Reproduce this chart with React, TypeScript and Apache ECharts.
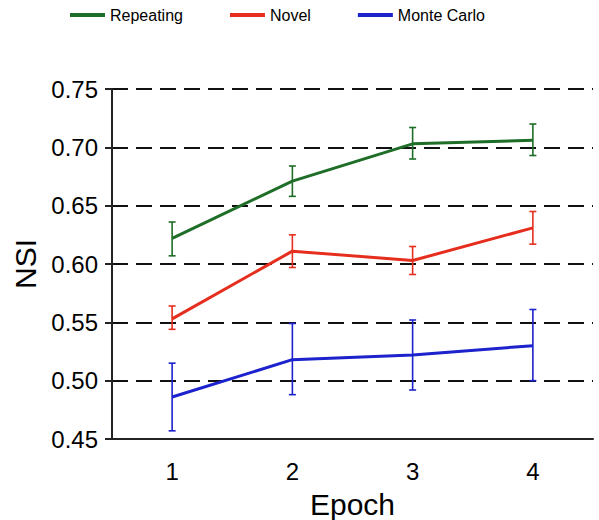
import React, { useEffect, useRef } from "react";
import * as echarts from "echarts";

const categories = ["1", "2", "3", "4"];
const seriesNames = ["Repeating", "Novel", "Monte Carlo"];
const colors = ["#1e6e28", "#e62e1e", "#1c22cc"];
const repeatingMean = [0.622, 0.671, 0.703, 0.706];
const repeatingLow = [0.607, 0.658, 0.690, 0.693];
const repeatingHigh = [0.636, 0.684, 0.717, 0.720];
const novelMean = [0.553, 0.611, 0.603, 0.631];
const novelLow = [0.544, 0.597, 0.591, 0.617];
const novelHigh = [0.564, 0.625, 0.615, 0.645];
const monteMean = [0.486, 0.518, 0.522, 0.530];
const monteLow = [0.457, 0.488, 0.492, 0.500];
const monteHigh = [0.515, 0.549, 0.552, 0.561];
const yTicks = ["0.45", "0.50", "0.55", "0.60", "0.65", "0.70", "0.75"];

const means = [repeatingMean, novelMean, monteMean];
const lows = [repeatingLow, novelLow, monteLow];
const highs = [repeatingHigh, novelHigh, monteHigh];

export default function App() {
  const ref = useRef<HTMLDivElement>(null);
  useEffect(() => {
    if (!ref.current) return;
    const chart = echarts.init(ref.current, undefined, { renderer: "svg" });
    const font = "Liberation Sans, Arial, sans-serif";
    const lineSeries = seriesNames.map((name, i) => ({
      name,
      type: "line",
      data: means[i],
      symbol: "none",
      lineStyle: { color: colors[i], width: 3 },
      itemStyle: { color: colors[i] },
      z: 3,
    }));
    const errSeries = seriesNames.map((name, i) => ({
      name: name,
      type: "custom",
      data: categories.map((_, j) => [j, lows[i][j], highs[i][j]]),
      itemStyle: { color: colors[i] },
      renderItem: (params: any, api: any) => {
        const x = api.value(0);
        const lo = api.coord([x, api.value(1)]);
        const hi = api.coord([x, api.value(2)]);
        const hw = 3.5;
        const style = { stroke: colors[i], lineWidth: 1.6 };
        return {
          type: "group",
          children: [
            { type: "line", shape: { x1: lo[0], y1: lo[1], x2: hi[0], y2: hi[1] }, style },
            { type: "line", shape: { x1: lo[0] - hw, y1: lo[1], x2: lo[0] + hw, y2: lo[1] }, style },
            { type: "line", shape: { x1: hi[0] - hw, y1: hi[1], x2: hi[0] + hw, y2: hi[1] }, style },
          ],
        };
      },
      encode: { x: 0, y: [1, 2] },
      z: 4,
    }));
    chart.setOption({
      animation: false,
      legend: {
        data: seriesNames.map((n, i) => ({ name: n, icon: "rect", itemStyle: { color: colors[i] } })),
        left: 70,
        top: 7,
        padding: 0,
        itemWidth: 35,
        itemHeight: 4,
        itemGap: 47,
        textStyle: { fontSize: 16, color: "#000", fontFamily: font },
      },
      grid: { left: 112, right: 6, top: 89, bottom: 81, outerBoundsMode: "none", containLabel: false },
      xAxis: {
        type: "category",
        data: categories,
        boundaryGap: true,
        name: "Epoch",
        nameLocation: "middle",
        nameGap: 50,
        nameTextStyle: { fontSize: 30, color: "#000", fontFamily: font },
        axisLine: { lineStyle: { color: "#222", width: 2 } },
        axisTick: { length: 5, lineStyle: { color: "#222", width: 2 } },
        axisLabel: { fontSize: 24, color: "#000", margin: 20, fontFamily: font },
      },
      yAxis: {
        type: "value",
        min: 0.45,
        max: 0.75,
        interval: 0.05,
        name: "NSI",
        nameLocation: "middle",
        nameGap: 68,
        nameTextStyle: { fontSize: 30, color: "#000", fontFamily: font },
        axisLine: { show: true, lineStyle: { color: "#222", width: 2 } },
        axisTick: { show: true, length: 7, lineStyle: { color: "#222", width: 2 } },
        axisLabel: {
          fontSize: 24,
          color: "#000",
          margin: 14,
          fontFamily: font,
          formatter: (v: number) => {
            const s = v.toFixed(2);
            return yTicks.includes(s) ? s : "";
          },
        },
        splitLine: { show: true, lineStyle: { color: "#111", width: 2, type: [16, 8] } },
      },
      series: [...lineSeries, ...errSeries],
    });
    return () => chart.dispose();
  }, []);
  return <div ref={ref} style={{ width: 599, height: 520, position: "absolute", left: 0, top: 0 }} />;
}
